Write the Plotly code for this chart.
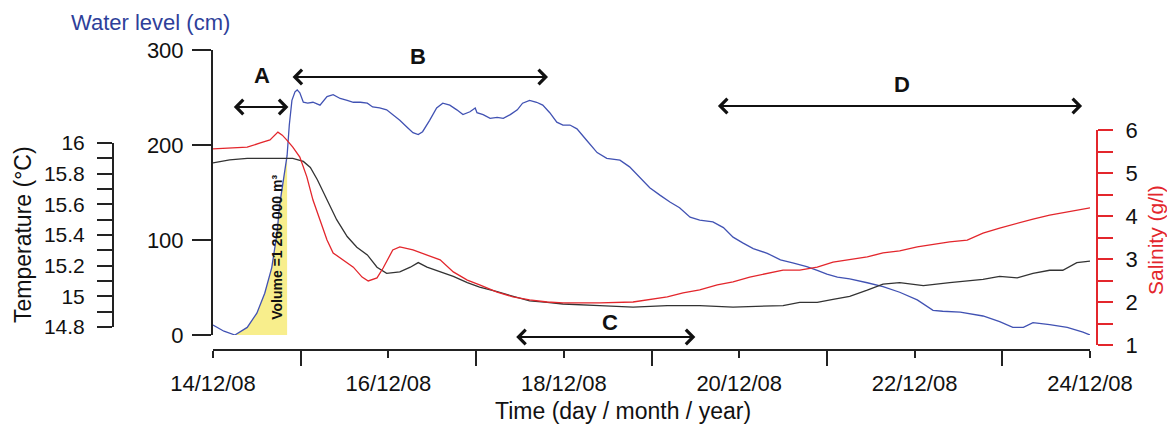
import pandas as pd
import plotly.graph_objects as go

# ---------------- data ----------------
START = pd.Timestamp("2008-12-14")

# Water level (cm) -- time in days after 14/12/08 00:00
level_days = [0.00, 0.125, 0.25, 0.39, 0.50, 0.59, 0.67, 0.73, 0.76, 0.81, 0.845, 0.87, 0.90,
              0.935, 0.96, 0.99, 1.03, 1.08, 1.14, 1.22, 1.30, 1.37, 1.45, 1.53, 1.60, 1.68,
              1.76, 1.82, 1.90, 1.98, 2.05, 2.13, 2.21, 2.28, 2.34, 2.39, 2.47, 2.55, 2.62,
              2.70, 2.78, 2.85, 2.93, 2.99, 3.01, 3.08, 3.16, 3.24, 3.31, 3.39, 3.47, 3.53,
              3.61, 3.69, 3.76, 3.84, 3.92, 3.99, 4.07, 4.15, 4.26, 4.38, 4.49, 4.64, 4.75,
              4.87, 4.98, 5.10, 5.21, 5.32, 5.44, 5.55, 5.70, 5.82, 5.93, 6.04, 6.16, 6.32,
              6.47, 6.61, 6.77, 6.89, 7.00, 7.12, 7.26, 7.46, 7.64, 7.83, 8.03, 8.21, 8.32,
              8.52, 8.78, 8.97, 9.12, 9.24, 9.35, 9.54, 9.74, 9.92, 10.00]
level_cm = [10.5, 4, 0, 8, 23, 44, 71, 107, 137, 168, 189, 221, 247,
            256, 258, 255, 245, 244, 245, 242, 251, 253, 249, 247, 245, 245,
            244, 240, 239, 237, 232, 226, 219, 213, 211, 214, 226, 239, 244,
            242, 237, 232, 235, 239, 234, 232, 228, 229, 228, 232, 237, 244,
            247, 245, 242, 234, 224, 221, 221, 217, 205, 192, 186, 184, 177,
            165, 155, 147, 140, 134, 124, 121, 119, 113, 103, 97, 91, 86,
            79, 76, 72, 68, 64, 61, 59, 55, 51, 45, 37, 26, 25,
            24, 20, 14, 8, 8, 13, 11, 8, 3, 0]

# Salinity (g/l)
sal_days = [0.00, 0.19, 0.39, 0.54, 0.65, 0.74, 0.79, 0.84, 0.91, 0.99, 1.07, 1.14, 1.22,
            1.30, 1.37, 1.48, 1.60, 1.70, 1.77, 1.87, 1.94, 2.05, 2.13, 2.28, 2.44, 2.59,
            2.74, 2.90, 3.04, 3.24, 3.42, 3.61, 3.81, 3.99, 4.18, 4.41, 4.79, 4.98, 5.18,
            5.36, 5.55, 5.75, 5.93, 6.12, 6.32, 6.50, 6.69, 6.89, 7.07, 7.26, 7.46, 7.64,
            7.83, 8.03, 8.40, 8.60, 8.78, 8.97, 9.17, 9.35, 9.54, 9.74, 10.00]
sal_gl = [5.56, 5.58, 5.60, 5.70, 5.77, 5.95, 5.88, 5.77, 5.60, 5.37, 4.91, 4.37, 3.91,
          3.44, 3.14, 2.98, 2.81, 2.58, 2.49, 2.56, 2.79, 3.21, 3.28, 3.21, 3.09, 2.98,
          2.70, 2.51, 2.40, 2.23, 2.12, 2.05, 2.00, 1.98, 1.98, 1.98, 2.00, 2.05, 2.12,
          2.21, 2.28, 2.40, 2.47, 2.58, 2.67, 2.74, 2.74, 2.81, 2.93, 2.98, 3.05, 3.14,
          3.19, 3.28, 3.40, 3.44, 3.60, 3.72, 3.84, 3.93, 4.02, 4.09, 4.19]

# Temperature (deg C)
temp_days = [0.00, 0.19, 0.39, 0.57, 0.76, 0.91, 1.03, 1.11, 1.19, 1.30, 1.41, 1.53, 1.64,
             1.76, 1.87, 1.98, 2.13, 2.25, 2.34, 2.44, 2.59, 2.74, 2.90, 3.04, 3.24, 3.42,
             3.61, 3.81, 3.99, 4.41, 4.79, 5.18, 5.55, 5.93, 6.32, 6.50, 6.69, 6.89, 7.07,
             7.26, 7.46, 7.64, 7.83, 8.10, 8.40, 8.78, 8.97, 9.17, 9.35, 9.54, 9.69, 9.85, 10.00]
temp_c = [15.87, 15.89, 15.90, 15.90, 15.90, 15.90, 15.88, 15.84, 15.76, 15.63, 15.50, 15.39, 15.32,
          15.27, 15.19, 15.15, 15.16, 15.19, 15.22, 15.19, 15.16, 15.13, 15.09, 15.06, 15.03, 15.00,
          14.97, 14.96, 14.95, 14.94, 14.93, 14.94, 14.94, 14.93, 14.94, 14.94, 14.96, 14.96, 14.98,
          15.00, 15.04, 15.08, 15.09, 15.07, 15.09, 15.11, 15.13, 15.12, 15.15, 15.17, 15.17, 15.22, 15.23]

# Filled "volume" part of the rising limb
volume_from_day, volume_to_day = 0.25, 0.845
volume_label = "Volume =1 260 000 m\u00b3"

# Period annotations: (label, start day, end day)
periods = [("A", 0.22, 0.86), ("B", 0.89, 3.82), ("C", 3.44, 5.50), ("D", 5.74, 9.91)]

x_tick_labels_fmt = "%d/%m/%y"

# ---------------- styling / layout helpers ----------------
W, H = 1175, 425
OFF = 8  # page body margin of the written html page


def px(x):
    return (x - OFF) / W


def py(y):
    return 1 - (y - OFF) / H


FONT = "Liberation Sans, Arial, sans-serif"
BLUE_LINE = "#4152B3"
BLUE_TXT = "#2E3F9A"
RED = "#E3262C"
BLACK_LINE = "#333333"
AX = "#222222"
TXT = "#111111"


def to_dt(days):
    return [START + pd.to_timedelta(d, unit="D") for d in days]


fig = go.Figure()

vol_days = [d for d in level_days if volume_from_day <= d <= volume_to_day]
vol_vals = [v for d, v in zip(level_days, level_cm) if volume_from_day <= d <= volume_to_day]
fig.add_trace(go.Scatter(x=to_dt(vol_days), y=vol_vals, xaxis="x", yaxis="y",
                         mode="lines", line=dict(width=0), fill="tozeroy",
                         fillcolor="#F8EE8C", hoverinfo="skip", showlegend=False))

fig.add_trace(go.Scatter(x=to_dt(temp_days), y=temp_c, xaxis="x", yaxis="y2", mode="lines",
                         line=dict(color=BLACK_LINE, width=1.3), name="Temperature", showlegend=False))
fig.add_trace(go.Scatter(x=to_dt(sal_days), y=sal_gl, xaxis="x", yaxis="y3", mode="lines",
                         line=dict(color=RED, width=1.3), name="Salinity", showlegend=False))
fig.add_trace(go.Scatter(x=to_dt(level_days), y=level_cm, xaxis="x", yaxis="y", mode="lines",
                         line=dict(color=BLUE_LINE, width=1.3), name="Water level", showlegend=False))

day_ms = 86400000

fig.update_layout(
    width=W, height=H,
    margin=dict(l=0, r=0, t=0, b=0, autoexpand=False),
    paper_bgcolor="white", plot_bgcolor="rgba(0,0,0,0)",
    font=dict(family=FONT, color=TXT),
    xaxis=dict(
        domain=[px(213), px(1090)], anchor="free", position=py(350), automargin=False,
        range=[START, START + pd.Timedelta(days=10)],
        type="date", tick0=START, dtick=2 * day_ms, tickformat=x_tick_labels_fmt,
        showline=True, linecolor=AX, linewidth=2, ticks="outside", ticklen=7,
        tickwidth=2, tickcolor=AX, showgrid=False, zeroline=False,
        tickfont=dict(size=22, color=TXT), ticklabelstandoff=7,
        minor=dict(dtick=day_ms, ticks="outside", ticklen=15, tickwidth=2,
                   tickcolor=AX, showgrid=False),
    ),
    yaxis=dict(
        domain=[py(335), py(50)], range=[0, 300], anchor="free", position=px(212),
        automargin=False,
        tickvals=[0, 100, 200, 300], showline=True, linecolor=AX, linewidth=2,
        ticks="outside", ticklen=19, tickwidth=2, tickcolor=AX, showgrid=False,
        zeroline=False, tickfont=dict(size=22, color=TXT), ticklabelstandoff=4,
    ),
    yaxis2=dict(
        domain=[py(327), py(143)], range=[14.8, 16], anchor="free", position=px(113),
        automargin=False,
        dtick=0.2, tick0=14.8, showline=True, linecolor=AX, linewidth=2,
        ticks="outside", ticklen=15, tickwidth=2, tickcolor=AX, showgrid=False,
        zeroline=False, tickfont=dict(size=21, color=TXT), ticklabelstandoff=8,
        minor=dict(dtick=0.1, tick0=14.8, ticks="outside", ticklen=15, tickwidth=2,
                   tickcolor=AX, showgrid=False),
    ),
    yaxis3=dict(
        domain=[py(345), py(130)], range=[1, 6], anchor="free", position=px(1097),
        automargin=False,
        side="right", dtick=1, showline=True, linecolor=RED, linewidth=2,
        ticks="outside", ticklen=15, tickwidth=2, tickcolor=RED, showgrid=False,
        zeroline=False, tickfont=dict(size=22, color=TXT), ticklabelstandoff=8,
        minor=dict(dtick=0.5, ticks="outside", ticklen=15, tickwidth=2,
                   tickcolor=RED, showgrid=False),
    ),
)

ann = []
C = dict(xanchor="center", yanchor="middle", showarrow=False)
# axis titles
ann.append(dict(text="Water level (cm)", x=px(150), y=py(23), xref="paper", yref="paper",
                font=dict(size=22, color=BLUE_TXT), **C))
ann.append(dict(text="Temperature (\u00b0C)", x=px(23), y=py(235), xref="paper", yref="paper",
                textangle=-90, font=dict(size=23, color=TXT), **C))
ann.append(dict(text="Salinity (g/l)", x=px(1155), y=py(240), xref="paper", yref="paper",
                textangle=-90, font=dict(size=21, color=RED), **C))
ann.append(dict(text="Time (day / month / year)", x=px(623), y=py(411), xref="paper",
                yref="paper", font=dict(size=23, color=TXT), **C))
# volume label
ann.append(dict(text="<b>" + volume_label + "</b>", x=START + pd.Timedelta(days=0.72),
                y=92, xref="x", yref="y", textangle=-90,
                font=dict(size=14, color=TXT), **C))

# period arrows
arrow_y = {"A": 107, "B": 77, "C": 337, "D": 106}
label_pos = {"A": (0.56, 75), "B": (2.34, 57), "C": (4.53, 322), "D": (7.86, 84)}
for name, d0, d1 in periods:
    ann.append(dict(text="", x=START + pd.Timedelta(days=d1), y=py(arrow_y[name]),
                    xref="x", yref="paper",
                    ax=START + pd.Timedelta(days=d0), axref="x", ay=0, ayref="pixel",
                    showarrow=True, arrowside="end+start", arrowhead=4, arrowsize=1.4,
                    arrowwidth=2, arrowcolor=TXT, standoff=0, startstandoff=0))
    ld, ly = label_pos[name]
    ann.append(dict(text="<b>" + name + "</b>", x=START + pd.Timedelta(days=ld), y=py(ly),
                    xref="x", yref="paper", font=dict(size=22, color=TXT), **C))

fig.update_layout(annotations=ann)

fig.write_html("out.html")
